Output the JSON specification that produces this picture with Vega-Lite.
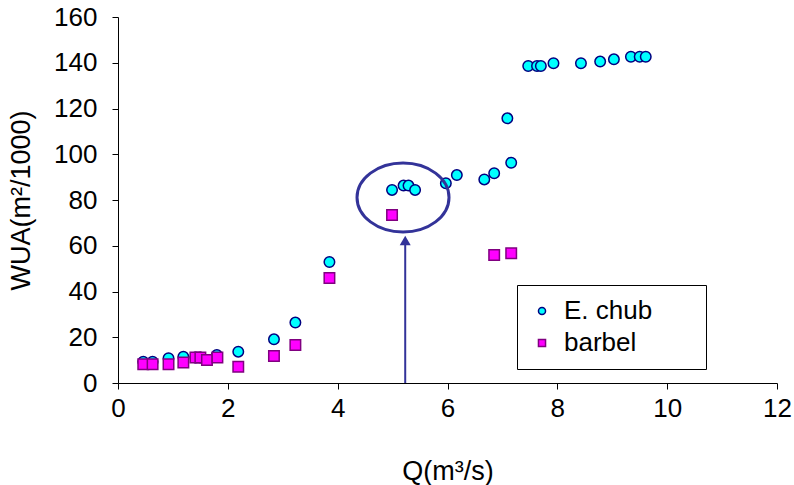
{
  "$schema": "https://vega.github.io/schema/vega-lite/v6.json",
  "width": 659,
  "height": 366,
  "autosize": "none",
  "padding": {"left": 118, "top": 17, "right": 17, "bottom": 102},
  "background": "white",
  "config": {
    "font": "Liberation Sans",
    "view": {"stroke": null},
    "axis": {
      "grid": false,
      "domainColor": "black",
      "tickColor": "black",
      "tickSize": 6,
      "labelColor": "black",
      "titleColor": "black",
      "labelFont": "Liberation Sans",
      "titleFont": "Liberation Sans",
      "labelFontSize": 26,
      "titleFontSize": 27,
      "titleFontWeight": "normal",
      "labelFlush": false,
      "labelOverlap": false
    },
    "legend": {
      "labelFont": "Liberation Sans",
      "labelFontSize": 26,
      "labelColor": "black"
    }
  },
  "datasets": {
    "fish": [
      {"q": 0.46, "wua": 9.3, "species": "E. chub"},
      {"q": 0.63, "wua": 9.3, "species": "E. chub"},
      {"q": 0.92, "wua": 10.8, "species": "E. chub"},
      {"q": 1.19, "wua": 11.5, "species": "E. chub"},
      {"q": 1.41, "wua": 11.1, "species": "E. chub"},
      {"q": 1.50, "wua": 11.1, "species": "E. chub"},
      {"q": 1.62, "wua": 10.1, "species": "E. chub"},
      {"q": 1.80, "wua": 12.2, "species": "E. chub"},
      {"q": 2.19, "wua": 13.7, "species": "E. chub"},
      {"q": 2.84, "wua": 19.1, "species": "E. chub"},
      {"q": 3.23, "wua": 26.4, "species": "E. chub"},
      {"q": 3.85, "wua": 52.9, "species": "E. chub"},
      {"q": 4.99, "wua": 84.4, "species": "E. chub"},
      {"q": 5.20, "wua": 86.3, "species": "E. chub"},
      {"q": 5.29, "wua": 86.3, "species": "E. chub"},
      {"q": 5.41, "wua": 84.4, "species": "E. chub"},
      {"q": 5.97, "wua": 87.3, "species": "E. chub"},
      {"q": 6.17, "wua": 90.9, "species": "E. chub"},
      {"q": 6.67, "wua": 89.0, "species": "E. chub"},
      {"q": 6.85, "wua": 91.7, "species": "E. chub"},
      {"q": 7.16, "wua": 96.3, "species": "E. chub"},
      {"q": 7.09, "wua": 115.7, "species": "E. chub"},
      {"q": 7.47, "wua": 138.6, "species": "E. chub"},
      {"q": 7.63, "wua": 138.6, "species": "E. chub"},
      {"q": 7.70, "wua": 138.6, "species": "E. chub"},
      {"q": 7.93, "wua": 139.8, "species": "E. chub"},
      {"q": 8.43, "wua": 139.8, "species": "E. chub"},
      {"q": 8.78, "wua": 140.5, "species": "E. chub"},
      {"q": 9.03, "wua": 141.5, "species": "E. chub"},
      {"q": 9.34, "wua": 142.6, "species": "E. chub"},
      {"q": 9.50, "wua": 142.6, "species": "E. chub"},
      {"q": 9.61, "wua": 142.6, "species": "E. chub"},
      {"q": 0.46, "wua": 8.2, "species": "barbel"},
      {"q": 0.63, "wua": 8.2, "species": "barbel"},
      {"q": 0.92, "wua": 8.2, "species": "barbel"},
      {"q": 1.19, "wua": 9.0, "species": "barbel"},
      {"q": 1.41, "wua": 11.1, "species": "barbel"},
      {"q": 1.50, "wua": 11.1, "species": "barbel"},
      {"q": 1.62, "wua": 10.1, "species": "barbel"},
      {"q": 1.81, "wua": 11.1, "species": "barbel"},
      {"q": 2.19, "wua": 7.1, "species": "barbel"},
      {"q": 2.84, "wua": 11.8, "species": "barbel"},
      {"q": 3.23, "wua": 16.6, "species": "barbel"},
      {"q": 3.85, "wua": 45.9, "species": "barbel"},
      {"q": 4.99, "wua": 73.4, "species": "barbel"},
      {"q": 6.85, "wua": 56.0, "species": "barbel"},
      {"q": 7.16, "wua": 56.7, "species": "barbel"}
    ]
  },
  "layer": [
    {
      "data": {"name": "fish"},
      "mark": {"type": "point", "filled": true, "opacity": 1, "strokeWidth": 1.5, "size": 110},
      "encoding": {
        "x": {
          "field": "q", "type": "quantitative",
          "scale": {"domain": [0, 12], "nice": false, "zero": false},
          "axis": {"values": [0, 2, 4, 6, 8, 10, 12], "format": "d", "title": "Q(m³/s)", "labelPadding": 6, "titlePadding": 37}
        },
        "y": {
          "field": "wua", "type": "quantitative",
          "scale": {"domain": [0, 160], "nice": false},
          "axis": {"values": [0, 20, 40, 60, 80, 100, 120, 140, 160], "format": "d", "title": "WUA(m²/1000)", "labelPadding": 15, "titlePadding": 18}
        },
        "fill": {
          "field": "species", "type": "nominal",
          "scale": {"domain": ["E. chub", "barbel"], "range": ["#00FFFF", "#FF00FF"]},
          "legend": {
            "title": "\u00a0",
            "titleOrient": "right",
            "titleFontSize": 8,
            "titlePadding": 41,
            "orient": "none",
            "legendX": 399,
            "legendY": 268,
            "strokeColor": "black",
            "fillColor": "white",
            "padding": 13,
            "symbolSize": 50,
            "symbolStrokeWidth": 1.5,
            "symbolOffset": -1,
            "labelOffset": 9,
            "rowPadding": 6
          }
        },
        "stroke": {
          "field": "species", "type": "nominal",
          "scale": {"domain": ["E. chub", "barbel"], "range": ["#000080", "#800080"]}
        },
        "shape": {
          "field": "species", "type": "nominal",
          "scale": {"domain": ["E. chub", "barbel"], "range": ["circle", "square"]}
        }
      }
    },
    {
      "data": {"values": [{}]},
      "mark": {"type": "rule", "color": "#333399", "strokeWidth": 2},
      "encoding": {
        "x": {"datum": 5.23, "type": "quantitative"},
        "y": {"datum": 0, "type": "quantitative"},
        "y2": {"datum": 62}
      }
    },
    {
      "data": {"values": [{}]},
      "mark": {"type": "point", "shape": "triangle-up", "filled": true, "color": "#333399", "opacity": 1, "size": 121},
      "encoding": {
        "x": {"datum": 5.23, "type": "quantitative"},
        "y": {"datum": 62.3, "type": "quantitative"}
      }
    },
    {
      "data": {"values": [{}]},
      "mark": {"type": "point", "shape": "M-1,0A1,0.75,0,1,1,1,0A1,0.75,0,1,1,-1,0", "filled": false, "color": "#333399", "opacity": 1, "strokeWidth": 3, "size": 8464},
      "encoding": {
        "x": {"datum": 5.19, "type": "quantitative"},
        "y": {"datum": 81.1, "type": "quantitative"}
      }
    }
  ]
}
